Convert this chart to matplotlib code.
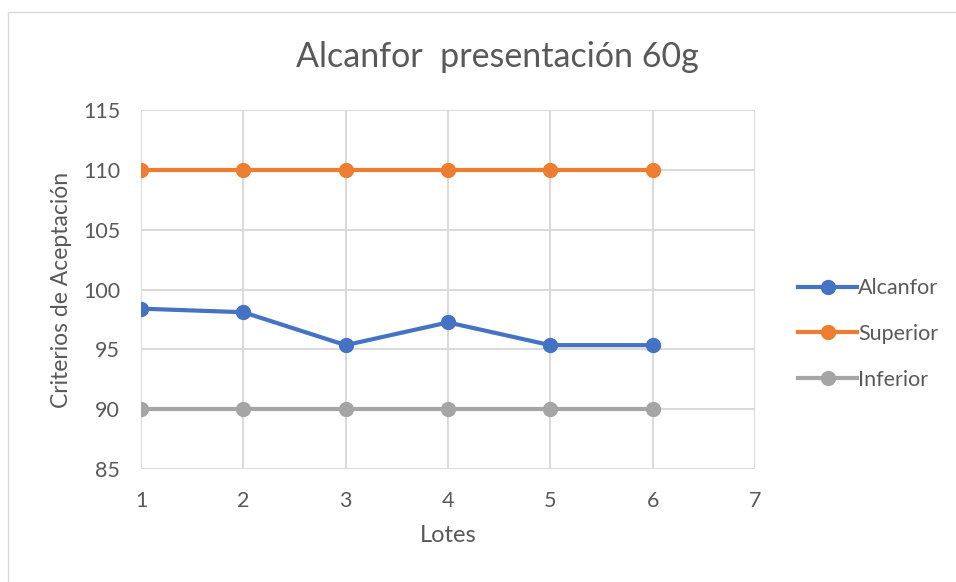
import matplotlib
matplotlib.use('Agg')
import matplotlib.pyplot as plt
from matplotlib.patches import Rectangle

plt.rcParams['font.family'] = ['Lato', 'DejaVu Sans']

# datos por lote
lotes = [1, 2, 3, 4, 5, 6]
alcanfor = [98.4, 98.1, 95.35, 97.25, 95.35, 95.35]
superior = [110, 110, 110, 110, 110, 110]
inferior = [90, 90, 90, 90, 90, 90]

gris_texto = '#595959'
gris_rejilla = '#D9D9D9'

fig = plt.figure(figsize=(9.56, 5.82), dpi=100)
ax = fig.add_axes([141/956, 1-469/582, (755-141)/956, (469-110)/582])

# marco del grafico
fig.patches.append(Rectangle((8/956, -0.1), 1.2, 1 - 12/582 + 0.1, transform=fig.transFigure,
                             fill=False, edgecolor=gris_rejilla, linewidth=1))

ax.plot(lotes, alcanfor, color='#4472C4', lw=3, marker='o', ms=10, label='Alcanfor', zorder=3)
ax.plot(lotes, superior, color='#ED7D31', lw=3, marker='o', ms=10, label='Superior', zorder=3)
ax.plot(lotes, inferior, color='#A5A5A5', lw=3, marker='o', ms=10, label='Inferior', zorder=3)

ax.set_xlim(1, 7)
ax.set_ylim(85, 115)
ax.set_xticks(range(1, 8))
ax.set_yticks(range(85, 116, 5))
ax.grid(True, color=gris_rejilla, lw=1.4)
ax.set_axisbelow(True)
for s in ax.spines.values():
    s.set_visible(False)
ax.tick_params(axis='y', length=0, labelsize=15.5, colors=gris_texto, pad=15)
ax.tick_params(axis='x', length=0, labelsize=15.5, colors=gris_texto, pad=16)

ax.set_xlabel('Lotes', fontsize=17, color=gris_texto, labelpad=10)
ax.set_ylabel('Criterios de Aceptación', fontsize=16.5, color=gris_texto, labelpad=8)
fig.text(497/956, 1-57/582, 'Alcanfor  presentación 60g', fontsize=24.5, color=gris_texto,
         ha='center', va='center')

leg = ax.legend(loc='center left', bbox_to_anchor=(798/956, 1-334/582), bbox_transform=fig.transFigure,
                frameon=False, fontsize=15.5, labelspacing=1.2, handlelength=2.75, handletextpad=0.05,
                borderpad=0, borderaxespad=0)
for t in leg.get_texts():
    t.set_color(gris_texto)

fig.savefig('out.png', dpi=100)
